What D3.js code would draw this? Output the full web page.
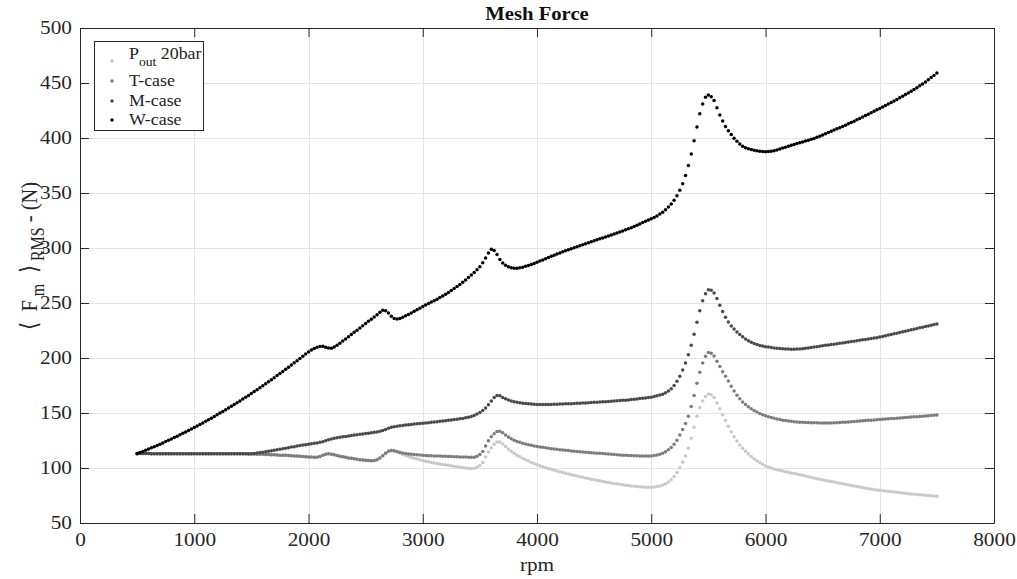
<!DOCTYPE html>
<html><head><meta charset="utf-8">
<script src="https://cdn.jsdelivr.net/npm/d3@7"></script>
<style>body{margin:0;background:#fff}svg{display:block}</style>
</head><body><svg id="c" width="1017" height="579"></svg>
<script>
// ---- data ----
const rpmStart = 500, rpmEnd = 7500, rpmStep = 25;
const xTicks = [0,1000,2000,3000,4000,5000,6000,7000,8000];
const yTicks = [50,100,150,200,250,300,350,400,450,500];
const seriesLabels = ["Pout 20bar","T-case","M-case","W-case"];
const seriesColors = ["#c8c8c8","#7c7c7c","#4a4a4a","#000000"];

const pOut20bar = [
113.1,113.1,113.1,113.1,113.1,113.0,113.0,113.0,113.0,113.0,113.0,113.0,113.0,113.0,113.0,113.0,113.0,113.0,113.0,113.0,
113.0,113.0,113.0,113.0,113.0,113.0,113.0,113.0,113.0,113.0,113.0,113.0,113.0,112.9,112.9,112.9,112.9,112.9,112.9,112.8,
112.8,112.7,112.6,112.5,112.4,112.3,112.2,112.1,112.0,111.9,111.7,111.6,111.5,111.3,111.2,111.0,110.9,110.7,110.5,110.3,
110.1,109.9,109.7,109.8,110.5,111.6,112.6,113.0,112.6,112.0,111.3,110.7,110.2,109.7,109.2,108.8,108.4,108.0,107.6,107.3,
107.0,106.8,106.7,106.9,107.6,109.0,111.2,113.5,115.2,116.0,115.3,114.3,113.3,112.3,111.3,110.4,109.6,108.8,108.1,107.4,
106.8,106.2,105.6,105.1,104.6,104.1,103.6,103.2,102.8,102.4,102.0,101.6,101.2,100.8,100.4,100.1,99.8,99.6,99.8,100.7,
102.3,105.0,110.0,114.6,118.5,121.6,123.6,123.6,121.8,119.5,117.3,115.2,113.4,111.7,110.2,108.8,107.5,106.3,105.1,104.0,
103.0,102.1,101.2,100.4,99.6,98.8,98.0,97.3,96.6,95.9,95.2,94.5,93.9,93.3,92.7,92.1,91.5,90.9,90.4,89.8,
89.3,88.8,88.3,87.8,87.3,86.8,86.4,86.0,85.6,85.2,84.8,84.4,84.0,83.7,83.4,83.1,82.9,82.7,82.6,82.5,
82.5,82.7,83.1,83.7,84.5,85.7,87.3,89.4,92.2,95.8,100.2,105.3,111.0,118.0,127.0,137.0,147.0,155.0,161.0,165.0,
167.2,166.6,164.0,159.0,153.8,148.5,143.2,138.0,133.0,128.5,124.5,121.0,118.0,115.3,112.8,110.5,108.5,106.6,104.9,103.3,
101.8,100.8,100.0,99.2,98.5,97.9,97.3,96.7,96.1,95.5,95.0,94.5,93.9,93.3,92.7,92.1,91.5,90.9,90.3,89.7,
89.2,88.7,88.2,87.7,87.2,86.7,86.2,85.7,85.2,84.7,84.2,83.7,83.2,82.7,82.2,81.7,81.2,80.8,80.4,80.0,
79.7,79.4,79.1,78.8,78.5,78.2,77.9,77.6,77.3,77.0,76.7,76.4,76.1,75.8,75.6,75.4,75.2,75.0,74.8,74.6,
74.4];

const tCase = [
113.1,113.1,113.1,113.1,113.1,113.0,113.0,113.0,113.0,113.0,113.0,113.0,113.0,113.0,113.0,113.0,113.0,113.0,113.0,113.0,
113.0,113.0,113.0,113.0,113.0,113.0,113.0,113.0,113.0,113.0,113.0,113.0,113.0,112.9,112.9,112.9,112.9,112.9,112.9,112.8,
112.8,112.7,112.6,112.5,112.4,112.3,112.2,112.1,112.0,111.9,111.7,111.6,111.5,111.3,111.2,111.0,110.9,110.7,110.5,110.3,
110.1,109.9,109.7,109.8,110.5,111.6,112.6,113.0,112.6,112.0,111.3,110.7,110.2,109.7,109.2,108.8,108.4,108.0,107.6,107.3,
107.0,106.8,106.7,106.9,107.6,109.0,111.2,113.5,115.2,116.0,115.7,115.0,114.3,113.7,113.2,112.8,112.5,112.2,112.0,111.8,
111.6,111.4,111.2,111.1,111.0,110.9,110.8,110.7,110.6,110.5,110.4,110.3,110.2,110.1,110.0,109.9,109.8,109.7,109.8,110.6,
112.2,115.0,120.0,124.8,128.3,131.2,133.2,133.4,132.0,130.1,128.2,126.6,125.3,124.2,123.3,122.5,121.8,121.2,120.6,120.1,
119.6,119.2,118.8,118.4,118.0,117.6,117.3,117.0,116.7,116.4,116.1,115.8,115.5,115.2,115.0,114.8,114.5,114.3,114.1,113.9,
113.7,113.5,113.3,113.1,112.9,112.7,112.5,112.3,112.1,111.9,111.7,111.5,111.4,111.3,111.2,111.1,111.0,111.0,111.0,111.0,
111.0,111.3,111.8,112.5,113.5,114.8,116.5,118.7,121.5,125.3,130.0,135.0,140.5,147.0,156.0,166.0,177.0,187.0,195.5,201.5,
205.0,204.3,201.8,197.0,192.2,187.5,183.3,179.0,174.3,170.0,166.2,162.9,160.0,157.7,155.7,153.9,152.3,150.9,149.6,148.4,
147.4,146.6,145.9,145.2,144.6,144.0,143.5,143.1,142.7,142.4,142.1,141.9,141.7,141.5,141.4,141.3,141.2,141.1,141.1,141.0,
141.0,141.0,141.0,141.0,141.1,141.2,141.3,141.5,141.7,141.9,142.1,142.3,142.5,142.7,142.9,143.1,143.3,143.5,143.7,143.9,
144.1,144.3,144.5,144.7,144.9,145.1,145.3,145.5,145.7,145.9,146.1,146.3,146.5,146.7,146.9,147.1,147.3,147.5,147.7,147.9,
148.1];

const mCase = [
113.1,113.1,113.1,113.1,113.1,113.0,113.0,113.0,113.0,113.0,113.0,113.0,113.0,113.0,113.0,113.0,113.0,113.0,113.0,113.0,
113.0,113.0,113.0,113.0,113.0,113.0,113.0,113.0,113.0,113.0,113.0,113.0,113.0,112.9,112.9,112.9,112.9,112.9,112.9,112.9,
112.9,113.2,113.6,114.0,114.4,114.8,115.2,115.7,116.1,116.6,117.0,117.5,118.0,118.5,119.0,119.4,119.9,120.4,120.8,121.2,
121.6,122.0,122.4,122.8,123.3,123.9,124.8,125.7,126.4,127.0,127.5,127.9,128.3,128.7,129.1,129.5,129.9,130.3,130.6,131.0,
131.3,131.7,132.0,132.4,132.8,133.3,134.0,135.0,136.1,137.0,137.6,138.0,138.4,138.7,139.0,139.3,139.6,139.9,140.2,140.5,
140.7,141.0,141.2,141.5,141.8,142.1,142.4,142.7,143.0,143.3,143.6,144.0,144.3,144.7,145.1,145.6,146.2,146.9,147.8,149.0,
150.5,152.3,154.6,157.5,161.0,164.2,166.0,165.6,164.2,162.9,161.8,161.0,160.3,159.8,159.3,158.9,158.6,158.3,158.1,157.9,
157.8,157.7,157.7,157.7,157.7,157.8,157.9,158.0,158.1,158.2,158.3,158.4,158.5,158.7,158.8,158.9,159.1,159.2,159.4,159.5,
159.7,159.8,160.0,160.2,160.3,160.5,160.7,160.9,161.1,161.3,161.5,161.7,161.9,162.2,162.5,162.8,163.1,163.4,163.7,164.0,
164.3,164.9,165.6,166.4,167.1,168.3,170.0,172.1,175.0,178.8,183.5,189.0,195.5,203.0,211.5,221.5,232.5,243.0,252.0,258.5,
262.0,261.5,259.0,254.0,248.0,242.3,237.0,232.8,229.2,226.3,223.6,221.3,219.3,217.3,215.7,214.3,213.1,212.2,211.4,210.8,
210.3,209.9,209.5,209.2,208.9,208.6,208.4,208.2,208.1,208.0,208.0,208.1,208.2,208.5,208.8,209.1,209.5,209.9,210.3,210.7,
211.1,211.5,211.9,212.2,212.6,213.0,213.4,213.7,214.1,214.5,214.9,215.3,215.7,216.1,216.5,216.9,217.3,217.7,218.1,218.5,
219.0,219.6,220.2,220.8,221.4,222.0,222.6,223.2,223.8,224.4,225.0,225.6,226.2,226.8,227.4,228.0,228.6,229.2,229.8,230.4,
231.0];

const wCase = [
113.0,114.0,115.1,116.1,117.2,118.3,119.4,120.5,121.7,122.8,124.0,125.2,126.4,127.7,128.9,130.2,131.5,132.8,134.1,135.4,
136.8,138.2,139.6,141.0,142.4,143.9,145.3,146.8,148.3,149.9,151.4,153.0,154.5,156.1,157.7,159.3,161.0,162.7,164.4,166.0,
167.7,169.5,171.2,173.0,174.8,176.6,178.4,180.3,182.1,184.0,185.9,187.8,189.7,191.7,193.6,195.6,197.6,199.6,201.6,203.7,
205.5,207.2,208.6,209.8,210.5,210.6,209.8,209.0,208.9,210.0,211.6,213.5,215.4,217.3,219.3,221.3,223.3,225.3,227.3,229.3,
231.3,233.3,235.3,237.3,239.4,241.6,243.3,243.0,240.8,237.9,235.9,235.4,236.0,237.0,238.3,239.6,241.0,242.4,243.8,245.3,
246.8,248.1,249.5,250.8,252.1,253.5,254.9,256.3,257.9,259.6,261.4,263.2,265.0,266.9,268.9,271.0,273.2,275.4,277.7,280.2,
283.0,286.5,290.8,295.5,298.8,297.8,294.0,289.5,286.3,284.3,283.0,282.0,281.5,281.6,282.0,282.6,283.3,284.2,285.1,286.0,
287.0,288.1,289.2,290.3,291.4,292.4,293.4,294.5,295.5,296.5,297.5,298.4,299.3,300.2,301.1,302.0,302.9,303.8,304.7,305.6,
306.5,307.4,308.3,309.2,310.1,311.0,311.9,312.8,313.7,314.6,315.5,316.5,317.5,318.5,319.6,320.7,321.9,323.1,324.3,325.4,
326.5,327.8,329.2,330.8,332.6,334.7,337.2,340.0,343.4,347.5,352.5,358.5,366.0,375.0,385.5,397.5,410.0,422.0,431.0,437.0,
439.0,437.5,434.0,427.5,421.0,415.5,410.5,406.5,403.2,399.8,397.0,394.5,392.6,391.2,390.2,389.5,388.9,388.4,388.0,387.7,
387.6,387.7,388.0,388.5,389.2,390.1,390.9,391.7,392.5,393.3,394.1,394.9,395.7,396.4,397.2,398.0,398.8,399.6,400.6,401.7,
402.8,403.9,405.0,406.1,407.2,408.3,409.4,410.5,411.7,412.9,414.1,415.3,416.5,417.8,419.1,420.4,421.7,423.0,424.3,425.6,
426.9,428.2,429.5,430.9,432.3,433.7,435.1,436.5,438.0,439.5,441.0,442.5,444.0,445.7,447.4,449.2,451.0,452.9,454.9,456.9,
459.0];

// ---- chart ----
const svg = d3.select("#c");
const L = 80, R = 994, T = 28, B = 523;
const FONT = "'Liberation Serif','Times New Roman',serif";
const AX = "#262626";
const SX = 1.15; // horizontal stretch of text, as in the reference

const x = d3.scaleLinear().domain([0, 8000]).range([L, R]);
const y = d3.scaleLinear().domain([50, 500]).range([B, T]);
const rpm = d3.range(rpmStart, rpmEnd + 1, rpmStep);

svg.append("rect").attr("x",0).attr("y",0).attr("width",1017).attr("height",579).attr("fill","#fff");

// grid
const grid = svg.append("g").attr("stroke","#e3e3e3").attr("stroke-width",1);
grid.selectAll(".gx").data(xTicks.slice(1,-1)).join("line")
  .attr("x1",d=>Math.round(x(d))+0.5).attr("x2",d=>Math.round(x(d))+0.5).attr("y1",T).attr("y2",B);
grid.selectAll(".gy").data(yTicks.slice(1,-1)).join("line")
  .attr("y1",d=>Math.round(y(d))+0.5).attr("y2",d=>Math.round(y(d))+0.5).attr("x1",L).attr("x2",R);

// series (drawn in legend order so W-case is on top)
const series = [pOut20bar, tCase, mCase, wCase];
series.forEach((vals, i) => {
  svg.append("g").attr("fill", seriesColors[i])
    .selectAll("circle").data(vals).join("circle")
    .attr("cx", (d, j) => x(rpm[j])).attr("cy", d => y(d)).attr("r", 1.75);
});

// axes
function styleAxis(g){
  g.select(".domain").attr("stroke",AX);
  g.selectAll(".tick line").attr("stroke",AX);
  g.selectAll("text").attr("fill","#262626").style("font-family",FONT).style("font-size","18.5px");
}
const xa = svg.append("g").attr("transform",`translate(0,${B})`)
  .call(d3.axisBottom(x).tickValues(xTicks).tickSizeInner(-9).tickSizeOuter(0).tickPadding(10).tickFormat(d3.format("d")));
styleAxis(xa);
xa.selectAll("text").attr("transform",`scale(${SX},1)`);
const ya = svg.append("g").attr("transform",`translate(${L},0)`)
  .call(d3.axisLeft(y).tickValues(yTicks).tickSizeInner(-9).tickSizeOuter(0).tickPadding(8).tickFormat(d3.format("d")));
styleAxis(ya);
ya.selectAll("text").attr("x",null).attr("transform",`translate(-8,0) scale(${SX},1)`);
const xt = svg.append("g").attr("transform",`translate(0,${T})`)
  .call(d3.axisTop(x).tickValues(xTicks).tickSizeInner(-9).tickSizeOuter(0).tickFormat(""));
styleAxis(xt);
const yr = svg.append("g").attr("transform",`translate(${R},0)`)
  .call(d3.axisRight(y).tickValues(yTicks).tickSizeInner(-9).tickSizeOuter(0).tickFormat(""));
styleAxis(yr);

// title
svg.append("text").attr("transform",`translate(${(L+R)/2},20) scale(${SX},1)`)
  .attr("text-anchor","middle").style("font-family",FONT).style("font-weight","bold")
  .style("font-size","18px").attr("fill","#111").text("Mesh Force");

// x label
svg.append("text").attr("transform",`translate(${(L+R)/2},571) scale(${SX},1)`)
  .attr("text-anchor","middle").style("font-family",FONT).style("font-size","18.5px")
  .attr("fill","#262626").text("rpm");

// y label
const yl = svg.append("text").attr("transform",`translate(37,256) rotate(-90) scale(1,1.15)`)
  .attr("text-anchor","middle").style("font-family",FONT).style("font-size","20.5px")
  .attr("fill","#262626").attr("xml:space","preserve");
yl.append("tspan").text("\u27E8\u00A0\u00A0F");
yl.append("tspan").attr("dy",6).style("font-size","16px").text("\u00A0m");
yl.append("tspan").attr("dy",-6).text("\u00A0\u00A0\u27E9");
yl.append("tspan").attr("dy",6).style("font-size","16px").text("\u00A0RMS");
yl.append("tspan").attr("dy",-6).text("\u00A0- (N)");

// legend
const lg = svg.append("g");
lg.append("rect").attr("x",94.5).attr("y",41.5).attr("width",109).attr("height",89)
  .attr("fill","#fff").attr("stroke",AX).attr("stroke-width",1);
const legY = [61, 81, 101, 120];
seriesLabels.forEach((lab, i) => {
  lg.append("circle").attr("cx",112).attr("cy",legY[i]).attr("r",1.75).attr("fill",seriesColors[i]);
  const t = lg.append("text").attr("transform",`translate(129,${legY[i]+5}) scale(1.05,1)`)
    .style("font-family",FONT).style("font-size","17px").attr("fill","#222");
  if (i === 0) {
    t.attr("transform",`translate(129,${legY[i]-2}) scale(1.05,1)`);
    t.append("tspan").text("P");
    t.append("tspan").attr("dy",7).style("font-size","13px").text("out");
    t.append("tspan").attr("dy",-7).text(" 20bar");
  } else {
    t.text(lab);
  }
});
</script></body></html>
